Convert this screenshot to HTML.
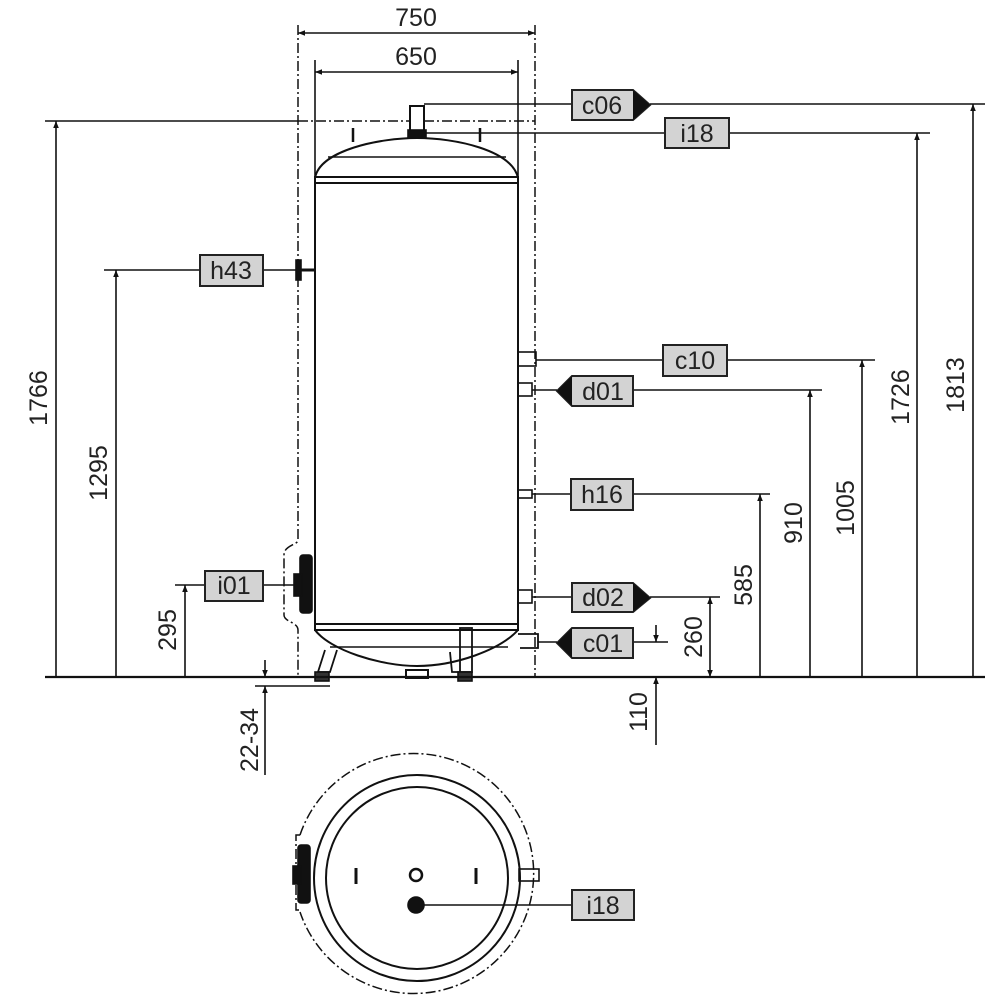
<!DOCTYPE html>
<html><head><meta charset="utf-8"><style>
html,body{margin:0;padding:0;background:#fff;}
svg{display:block;}
text{font-family:"Liberation Sans",Arial,sans-serif;fill:#222;}
</style></head><body>
<svg width="1000" height="1000" viewBox="0 0 1000 1000" xmlns="http://www.w3.org/2000/svg">
<defs>
<marker id="a" viewBox="0 0 10 10" refX="10" refY="5" markerWidth="7" markerHeight="9" orient="auto-start-reverse" markerUnits="userSpaceOnUse"><path d="M0,1 L10,5 L0,9 z" fill="#111"/></marker>
</defs>
<g stroke="#111" fill="none" stroke-width="1.6">
<g stroke-dasharray="10,3,2,3" stroke-width="1.5">
<path d="M298,25 V540 C298,545 284,545 284,555 V615 C284,622 298,622 298,630 V677"/>
<path d="M535,25 V677"/>
<path d="M298,121 H535"/>
<path d="M330,677 H455"/>
</g>
<line x1="298" y1="33" x2="535" y2="33" marker-start="url(#a)" marker-end="url(#a)"/>
<line x1="315" y1="72" x2="518" y2="72" marker-start="url(#a)" marker-end="url(#a)"/>
<line x1="315" y1="60" x2="315" y2="178"/>
<line x1="518" y1="60" x2="518" y2="178"/>
<path d="M315,183 V630 M518,183 V630" stroke-width="2"/>
<path d="M315,178 C320,150 380,138 417,138 C455,138 512,150 518,178" stroke-width="2"/>
<line x1="328" y1="157" x2="506" y2="157" stroke-width="1.4"/>
<rect x="315" y="177" width="203" height="6" stroke-width="2"/>
<path d="M353,128 V142 M480,128 V142" stroke-width="2.5"/>
<rect x="410" y="106" width="14" height="26" fill="#fff" stroke-width="2"/>
<rect x="408" y="130" width="18" height="8" fill="#111"/>
<rect x="315" y="624" width="203" height="6" stroke-width="2"/>
<path d="M315,630 C330,650 380,666 417,666 C455,666 500,650 518,630" stroke-width="2"/>
<line x1="330" y1="647" x2="508" y2="647" stroke-width="1.4"/>
<path d="M325,650 L318,672 H330 L337,650" stroke-width="1.8"/>
<rect x="460" y="628" width="12" height="44" stroke-width="1.8"/>
<path d="M450,652 L452,672 H460" stroke-width="1.8"/>
<rect x="315" y="672" width="14" height="9" fill="#333"/>
<rect x="458" y="672" width="14" height="9" fill="#333"/>
<rect x="406" y="670" width="22" height="8" stroke-width="2"/>
<path d="M518,634 H538 V648 H520" stroke-width="1.8"/>
<rect x="296" y="260" width="5" height="20" fill="#111"/>
<line x1="301" y1="270" x2="315" y2="270" stroke-width="3"/>
<rect x="300" y="555" width="12" height="58" fill="#111" rx="3"/>
<rect x="294" y="574" width="8" height="22" fill="#111"/>
<rect x="518" y="352" width="18" height="14" stroke-width="1.6"/>
<rect x="518" y="383" width="14" height="13" stroke-width="1.6"/>
<rect x="518" y="490" width="14" height="8" stroke-width="1.6"/>
<rect x="518" y="590" width="14" height="13" stroke-width="1.6"/>
<line x1="45" y1="677" x2="985" y2="677" stroke-width="2.2"/>
<path d="M424,104 H572 M650,104 H985"/>
<path d="M424,133 H665 M729,133 H930"/>
<path d="M45,121 H298"/>
<path d="M104,270 H200 M263,270 H296"/>
<path d="M536,360 H663 M727,360 H875"/>
<path d="M532,390 H557 M633,390 H822"/>
<path d="M532,494 H571 M633,494 H770"/>
<path d="M532,597 H572 M650,597 H720"/>
<path d="M538,642 H557 M633,642 H668"/>
<path d="M175,585 H205 M263,585 H294"/>
<line x1="56" y1="677" x2="56" y2="121" marker-end="url(#a)"/>
<line x1="116" y1="677" x2="116" y2="270" marker-end="url(#a)"/>
<line x1="185" y1="677" x2="185" y2="585" marker-end="url(#a)"/>
<line x1="973" y1="677" x2="973" y2="104" marker-end="url(#a)"/>
<line x1="917" y1="677" x2="917" y2="133" marker-end="url(#a)"/>
<line x1="862" y1="677" x2="862" y2="360" marker-end="url(#a)"/>
<line x1="810" y1="677" x2="810" y2="390" marker-end="url(#a)"/>
<line x1="760" y1="677" x2="760" y2="494" marker-end="url(#a)"/>
<line x1="710" y1="677" x2="710" y2="597" marker-end="url(#a)" marker-start="url(#a)"/>
<line x1="656" y1="625" x2="656" y2="642" marker-end="url(#a)"/>
<line x1="656" y1="745" x2="656" y2="677" marker-end="url(#a)"/>
<line x1="265" y1="660" x2="265" y2="677" marker-end="url(#a)"/>
<line x1="265" y1="775" x2="265" y2="686" marker-end="url(#a)"/>
<line x1="255" y1="686" x2="330" y2="686"/>
<path d="M300,835 H296 V910 H300 M300,835 A120,120 0 1 1 300,912" stroke-dasharray="10,3,2,3" stroke-width="1.5"/>
<circle cx="417" cy="878" r="103" stroke-width="2"/>
<circle cx="417" cy="878" r="91" stroke-width="2"/>
<rect x="298" y="845" width="12" height="58" fill="#111" rx="3"/>
<rect x="293" y="866" width="8" height="18" fill="#111"/>
<rect x="519" y="869" width="20" height="12" stroke-width="1.6"/>
<path d="M356,868 V884 M476,868 V884" stroke-width="3"/>
<circle cx="416" cy="875" r="6" stroke-width="2.5"/>
<circle cx="416" cy="905" r="8" fill="#111"/>
<line x1="424" y1="905" x2="572" y2="905"/>
</g>
<g stroke="#222" stroke-width="2" fill="#d3d3d3">
<path d="M572,90 H633 L650,105 L633,120 H572 Z"/>
<rect x="665" y="118" width="64" height="30"/>
<rect x="200" y="255" width="63" height="31"/>
<rect x="663" y="345" width="64" height="31"/>
<path d="M633,376 H572 L557,391 L572,406 H633 Z"/>
<rect x="571" y="479" width="62" height="31"/>
<path d="M572,583 H633 L650,598 L633,612 H572 Z"/>
<path d="M633,628 H572 L557,643 L572,658 H633 Z"/>
<rect x="205" y="571" width="58" height="30"/>
<rect x="572" y="890" width="62" height="30"/>
</g>
<g fill="#111">
<path d="M633,90 L650,105 L633,120 Z"/>
<path d="M572,376 L557,391 L572,406 Z"/>
<path d="M633,583 L650,598 L633,612 Z"/>
<path d="M572,628 L557,643 L572,658 Z"/>
</g>
<g font-size="25" text-anchor="middle">
<text x="602" y="114">c06</text>
<text x="697" y="142">i18</text>
<text x="231" y="279">h43</text>
<text x="695" y="369">c10</text>
<text x="603" y="400">d01</text>
<text x="602" y="503">h16</text>
<text x="603" y="606">d02</text>
<text x="603" y="652">c01</text>
<text x="234" y="594">i01</text>
<text x="603" y="914">i18</text>
<text x="416" y="26">750</text>
<text x="416" y="65">650</text>
</g>
<g font-size="25" text-anchor="middle">
<text transform="translate(47,398) rotate(-90)">1766</text>
<text transform="translate(107,473) rotate(-90)">1295</text>
<text transform="translate(176,630) rotate(-90)">295</text>
<text transform="translate(258,740) rotate(-90)">22-34</text>
<text transform="translate(647,712) rotate(-90)">110</text>
<text transform="translate(702,637) rotate(-90)">260</text>
<text transform="translate(752,585) rotate(-90)">585</text>
<text transform="translate(802,523) rotate(-90)">910</text>
<text transform="translate(854,508) rotate(-90)">1005</text>
<text transform="translate(909,397) rotate(-90)">1726</text>
<text transform="translate(964,385) rotate(-90)">1813</text>
</g>
</svg>
</body></html>
